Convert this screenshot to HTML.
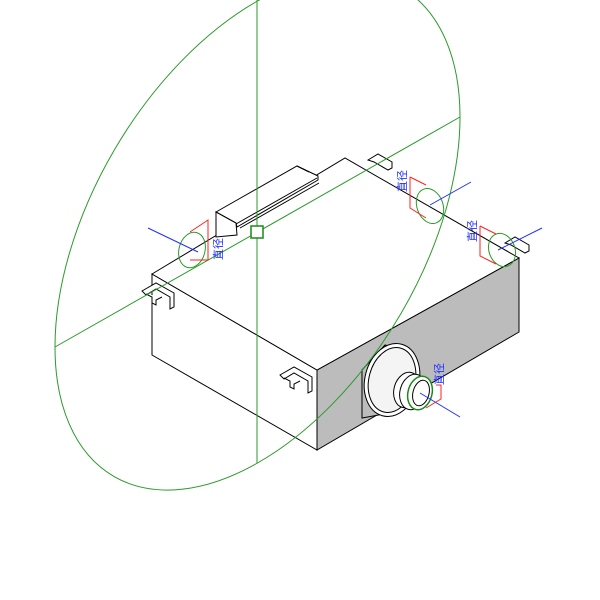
<!DOCTYPE html>
<html><head><style>html,body{margin:0;padding:0;background:#fff}svg{display:block}</style></head>
<body>
<svg width="600" height="600" viewBox="0 0 600 600" xmlns="http://www.w3.org/2000/svg" font-family="Liberation Sans, Noto Sans CJK SC, sans-serif">
<rect width="600" height="600" fill="#fff"/>
<!-- box faces -->
<polygon points="152,274 317,370 317,450 152,355" fill="#fff" stroke="#000" stroke-width="1"/>
<polygon points="317,370 519,258 519,332 317,450" fill="#bcbcbc" stroke="#000" stroke-width="1"/>
<polygon points="152,274 345,158 519,258 317,370" fill="#fff" stroke="#000" stroke-width="1"/>
<!-- duct channel on top -->
<g fill="#fff" stroke="#000" stroke-width="1">
<polygon points="216,212 297,166 318,176 318,180 237,227 236,223"/>
<polygon points="216,212 236,223 237,235 216,237"/>
<line x1="236" y1="224" x2="317" y2="178"/>
<line x1="240" y1="228" x2="319" y2="183"/>
<line x1="297" y1="166" x2="309" y2="172"/>
</g>
<!-- outlet on right face -->
<g stroke="#000" stroke-width="1">
<polygon points="362,370 385,345 410,352 418,400 395,412 362,418" fill="#bcbcbc"/>
<ellipse cx="392" cy="380" rx="27" ry="37" transform="rotate(15 392 380)" fill="#fff"/>
<ellipse cx="392" cy="380" rx="23" ry="33" transform="rotate(15 392 380)" fill="#f4f4f4"/>
<ellipse cx="407" cy="390" rx="13" ry="18" transform="rotate(15 407 390)" fill="#fff"/>
<ellipse cx="413" cy="392" rx="13" ry="18" transform="rotate(15 413 392)" fill="#fff"/>
<ellipse cx="420" cy="393" rx="12" ry="17" transform="rotate(15 420 393)" fill="#fff" stroke="#1a8a1a" stroke-width="1.5"/>
<ellipse cx="421" cy="393" rx="8" ry="13" transform="rotate(15 421 393)" fill="none"/>
</g>
<!-- brackets -->
<g fill="#fff" stroke="#000" stroke-width="1">
<path d="M142,291 l14,-8 l18,10 l0,14 l-4,2 l0,-12 l-14,-8 l-10,6 z"/>
<path d="M146,294 l6,3 l0,6 l4,2 l0,-5 l6,-3"/>
<path d="M280,375 l14,-8 l18,10 l0,14 l-4,2 l0,-12 l-14,-8 l-10,6 z"/>
<path d="M284,378 l6,3 l0,6 l4,2 l0,-5 l6,-3"/>
<path d="M368,160 l10,-6 l14,8 l0,6 l-4,2 l-14,-8 z"/>
<path d="M505,243 l10,-6 l14,8 l0,6 l-4,2 l-14,-8 z"/>
</g>
<!-- green construction -->
<g stroke="#2a9a2a" stroke-width="1" fill="none">
<circle cx="0" cy="0" r="1" transform="matrix(202.5,-115,0,231,257.5,232)" vector-effect="non-scaling-stroke"/>
<line x1="257" y1="0" x2="257" y2="463"/>
<line x1="55" y1="347" x2="460" y2="117"/>
<rect x="251" y="226" width="12" height="12" fill="#fff" stroke="#1a8a1a" stroke-width="1.5"/>
<ellipse cx="192" cy="250" rx="13" ry="18" transform="rotate(15 192 250)"/>
<ellipse cx="430" cy="206" rx="13" ry="18" transform="rotate(-20 430 206)"/>
<ellipse cx="502" cy="250" rx="13" ry="17" transform="rotate(-20 502 250)"/>
</g>
<!-- blue axes -->
<g stroke="#2030ff" stroke-width="1">
<line x1="148" y1="228" x2="198" y2="252"/>
<line x1="430" y1="205" x2="471" y2="182"/>
<line x1="498" y1="250" x2="542" y2="228"/>
<line x1="420" y1="393" x2="460" y2="417"/>
</g>
<!-- red dimensions -->
<g stroke="#ff2020" stroke-width="1" fill="none">
<path d="M190,232 L208,220 L208,260 L190,260"/>
<path d="M410,177 L426,185 M410,177 L410,208 L426,218"/>
<path d="M480,226 L496,234 M480,226 L480,256 L496,264"/>
<path d="M436,385 L441,385 L441,399 L426,408"/>
</g>
<g fill="#2030ff" font-size="11">
<text transform="translate(222,260) rotate(-90)">直径</text>
<text transform="translate(406,192) rotate(-90)">直径</text>
<text transform="translate(476,242) rotate(-90)">直径</text>
<text transform="translate(443,385) rotate(-90)">直径</text>
</g>
</svg>
</body></html>
